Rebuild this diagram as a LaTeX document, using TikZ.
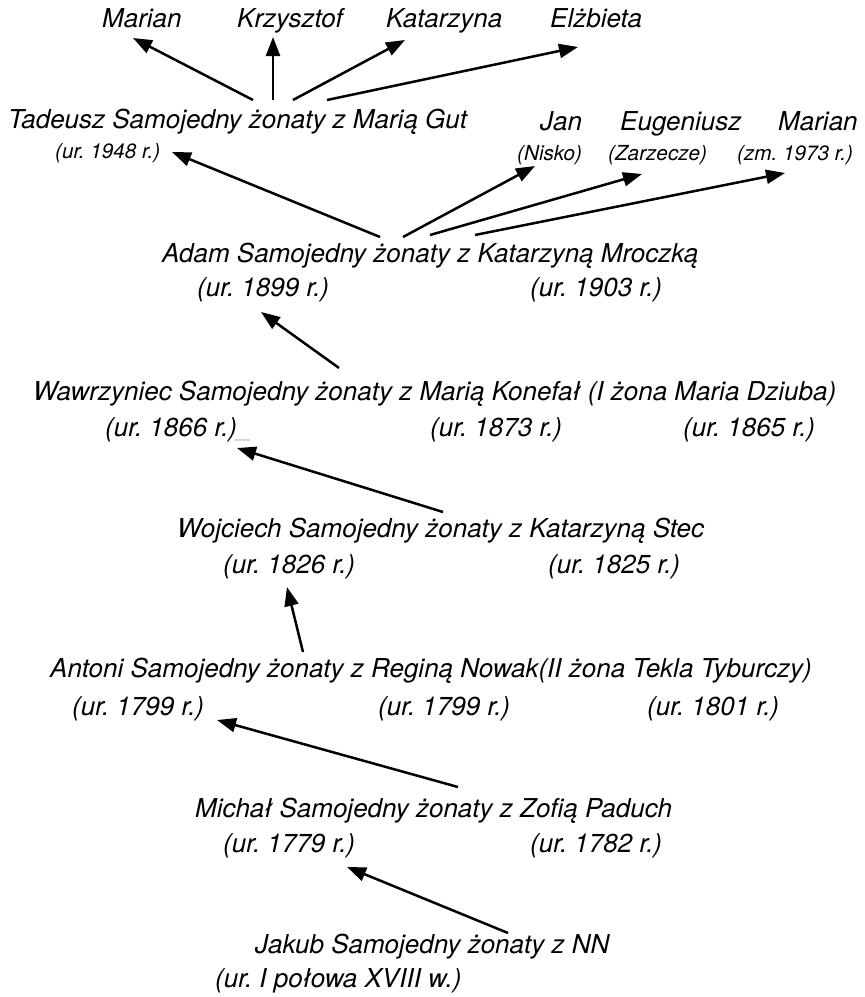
\documentclass[tikz,border=0pt]{standalone}
\usepackage{fontspec}
\setmainfont{TeX Gyre Heros}
\usetikzlibrary{arrows.meta}
\frenchspacing
\begin{document}
\begin{tikzpicture}[x=1pt,y=-1pt,
  big/.style={font=\fontsize{26}{30}\selectfont\itshape, inner sep=0pt, anchor=base west},
  small/.style={font=\fontsize{20.7}{24}\selectfont\itshape, inner sep=0pt, anchor=base west},
  arr/.style={-{Triangle[length=19pt,width=14pt]}, line width=2.5pt, line join=miter}]
\useasboundingbox (0,0) rectangle (865,997);

% generation 1: children of Tadeusz
\node[big] (c1) at (102,27) {Marian};
\node[big] (c2) at (237,27) {Krzysztof};
\node[big] (c3) at (386,27) {Katarzyna};
\node[big] (c4) at (550,27) {Elżbieta};

% generation 2: children of Adam
\node[big] (tad) at (8,128) {Tadeusz Samojedny żonaty z Marią Gut};
\node[small] (tadb) at (55,158) {(ur. 1948 r.)};
\node[big] (jan) at (540,130) {Jan};
\node[big] (eug) at (620,130) {Eugeniusz};
\node[big] (mar) at (778,130) {Marian};
\node[small] (janb) at (517,160) {(Nisko)};
\node[small] (eugb) at (608,160) {(Zarzecze)};
\node[small] (marb) at (737,160) {(zm. 1973 r.)};

% generation 3
\node[big] (adam) at (162,262) {Adam Samojedny żonaty z Katarzyną Mroczką};
\node[big] (adamb) at (197,296) {(ur. 1899 r.)};
\node[big] (adamw) at (530,296) {(ur. 1903 r.)};

% generation 4
\node[big] (waw) at (33,400) {Wawrzyniec Samojedny żonaty z Marią Konefał (I żona Maria Dziuba)};
\node[big] (wawb) at (105,436) {(ur. 1866 r.)\textcolor{black!25}{\_}};
\node[big] (waww) at (430,436) {(ur. 1873 r.)};
\node[big] (wawv) at (683,436) {(ur. 1865 r.)};

% generation 5
\node[big] (woj) at (177,537) {Wojciech Samojedny żonaty z Katarzyną Stec};
\node[big] (wojb) at (223,573) {(ur. 1826 r.)};
\node[big] (wojw) at (548,573) {(ur. 1825 r.)};

% generation 6
\node[big] (ant) at (50,677) {Antoni Samojedny żonaty z Reginą Nowak(II żona Tekla Tyburczy)};
\node[big] (antb) at (72,715) {(ur. 1799 r.)};
\node[big] (antw) at (378,715) {(ur. 1799 r.)};
\node[big] (antv) at (647,715) {(ur. 1801 r.)};

% generation 7
\node[big] (mic) at (195,817) {Michał Samojedny żonaty z Zofią Paduch};
\node[big] (micb) at (223,852) {(ur. 1779 r.)};
\node[big] (micw) at (530,852) {(ur. 1782 r.)};

% generation 8
\node[big] (jak) at (255,953) {Jakub Samojedny żonaty z NN};
\node[big] (jakb) at (215,987) {(ur. I połowa XVIII w.)};

% arrow end points
\coordinate (t1) at (253,100); \coordinate (h1) at (133,38);
\coordinate (t2) at (273,100); \coordinate (h2) at (273,37);
\coordinate (t3) at (293,100); \coordinate (h3) at (405,40);
\coordinate (t4) at (327,100); \coordinate (h4) at (578,47);
\coordinate (a1) at (380,237); \coordinate (g1) at (172,152);
\coordinate (a2) at (403,237); \coordinate (g2) at (535,166);
\coordinate (a3) at (430,235); \coordinate (g3) at (642,174);
\coordinate (a4) at (475,235); \coordinate (g4) at (785,173);
\coordinate (wa) at (339,368); \coordinate (ad) at (261,312);
\coordinate (wo) at (443,512); \coordinate (wh) at (237,448);
\coordinate (an) at (303,652); \coordinate (oh) at (287,587);
\coordinate (mi) at (458,787); \coordinate (nh) at (217,720);
\coordinate (ja) at (508,933); \coordinate (mh) at (347,867);

\draw[arr] (t1) -- (h1);
\draw[arr] (t2) -- (h2);
\draw[arr] (t3) -- (h3);
\draw[arr] (t4) -- (h4);
\draw[arr] (a1) -- (g1);
\draw[arr] (a2) -- (g2);
\draw[arr] (a3) -- (g3);
\draw[arr] (a4) -- (g4);
\draw[arr] (wa) -- (ad);
\draw[arr] (wo) -- (wh);
\draw[arr] (an) -- (oh);
\draw[arr] (mi) -- (nh);
\draw[arr] (ja) -- (mh);
\end{tikzpicture}
\end{document}
